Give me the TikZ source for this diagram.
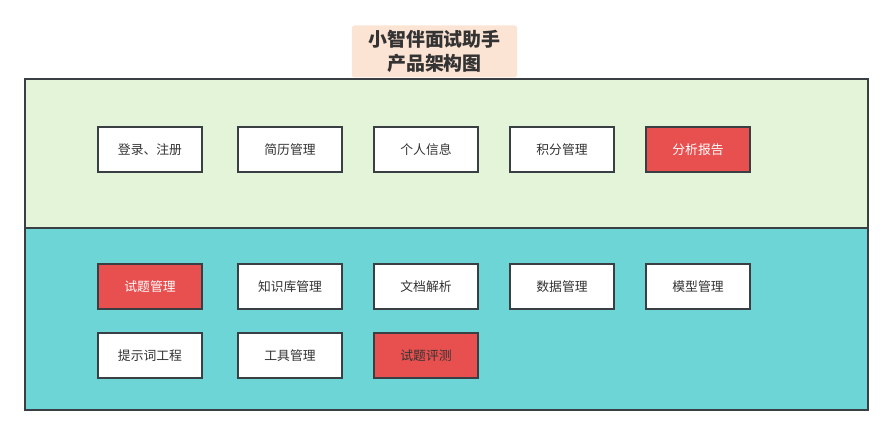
\documentclass[tikz,border=0pt]{standalone}
\usepackage{fontspec}
\newfontfamily\cjk{Noto Sans CJK SC}
\definecolor{topband}{HTML}{E3F4D8}
\definecolor{botband}{HTML}{6DD5D6}
\definecolor{edge}{HTML}{3A3F44}
\definecolor{redbox}{HTML}{E85050}
\definecolor{titlebg}{HTML}{FCE4D4}
\definecolor{txt}{HTML}{333333}
\begin{document}
\begin{tikzpicture}[x=0.75pt,y=-0.75pt,
  band/.style={draw=edge,line width=1.1pt},
  item/.style={draw=edge,line width=1.1pt,fill=white,minimum width=78pt,minimum height=34pt,inner sep=0pt,font=\cjk\fontsize{9.6pt}{11pt}\selectfont,text=txt},
  hot/.style={item,fill=redbox},
]
\useasboundingbox (0,0) rectangle (894,434);
\fill[white] (0,0) rectangle (894,434);
\node[fill=titlebg,rounded corners=2pt,minimum width=124pt,minimum height=39pt,inner sep=0pt,align=center,font=\cjk\bfseries\fontsize{14.2pt}{18pt}\selectfont,text=txt] (title) at (434.5,51.5) {小智伴面试助手\\产品架构图};
\path[band,fill=topband] (25,79) rectangle (868,228);
\path[band,fill=botband] (25,228) rectangle (868,410);
% row 1
\node[item] (a1) at (150,149.5) {登录、注册};
\node[item] (a2) at (290,149.5) {简历管理};
\node[item] (a3) at (426,149.5) {个人信息};
\node[item] (a4) at (562,149.5) {积分管理};
\node[hot,text=white] (a5) at (698,149.5) {分析报告};
% row 2
\node[hot,text=white] (b1) at (150,286.5) {试题管理};
\node[item] (b2) at (290,286.5) {知识库管理};
\node[item] (b3) at (426,286.5) {文档解析};
\node[item] (b4) at (562,286.5) {数据管理};
\node[item] (b5) at (698,286.5) {模型管理};
% row 3
\node[item] (c1) at (150,355.5) {提示词工程};
\node[item] (c2) at (290,355.5) {工具管理};
\node[hot] (c3) at (426,355.5) {试题评测};
\end{tikzpicture}
\end{document}
